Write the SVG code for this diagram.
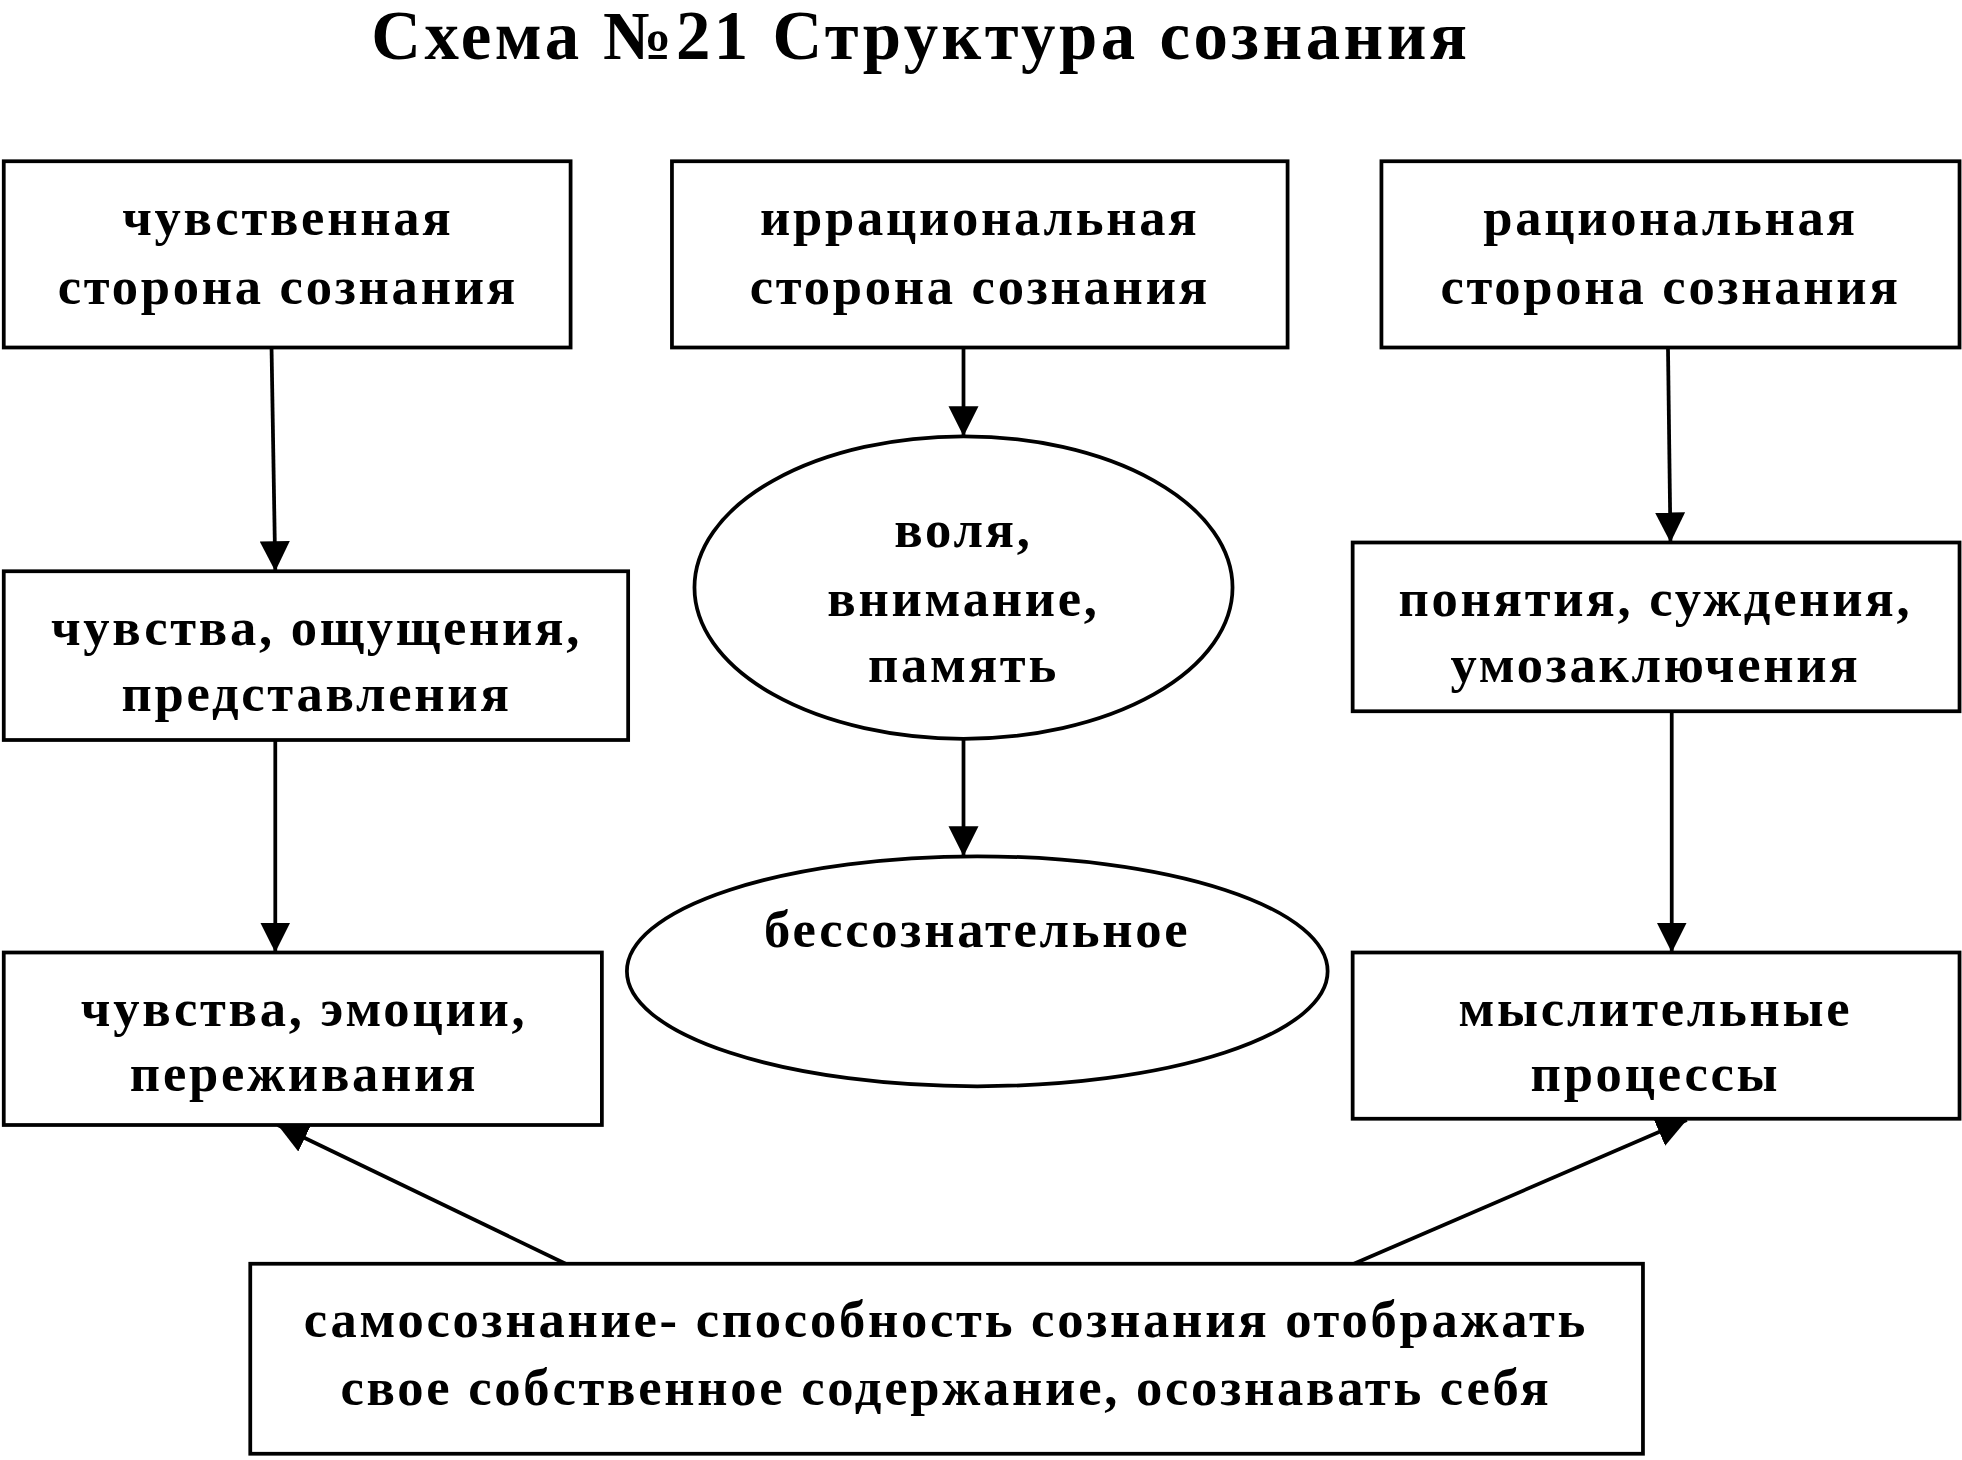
<svg xmlns="http://www.w3.org/2000/svg" width="1962" height="1460" viewBox="0 0 1962 1460">
<style>
.b{fill:#fff;stroke:#000;stroke-width:3}
.t{font-family:"Liberation Serif","Times New Roman",serif;font-weight:bold;font-size:42px;letter-spacing:2.2px;text-anchor:middle;fill:#000}
.c{stroke:#000;stroke-width:3;fill:none}
</style>
<defs><marker id="m" viewBox="0 0 10 10" refX="10" refY="5" markerWidth="8" markerHeight="8" orient="auto"><path d="M0,0L10,5L0,10z" fill="#000"/></marker></defs>
<rect width="1962" height="1460" fill="#fff"/>
<g transform="scale(1.2513,1.25)">
<text x="736" y="47" class="t" style="font-size:55px;letter-spacing:2.8px">Схема №21 Структура сознания</text>
<g id="connectors">
<path class="c" marker-end="url(#m)" d="M217,278L220,457"/>
<path class="c" marker-end="url(#m)" d="M770,278L770,349"/>
<path class="c" marker-end="url(#m)" d="M1333,278L1335,434"/>
<path class="c" marker-end="url(#m)" d="M220,592L220,762"/>
<path class="c" marker-end="url(#m)" d="M770,592L770,685"/>
<path class="c" marker-end="url(#m)" d="M1336,569L1336,762"/>
<path class="c" marker-end="url(#m)" d="M452,1011L222,900"/>
<path class="c" marker-end="url(#m)" d="M1082,1011L1348,896"/>
</g>
<g id="n1"><rect class="b" x="3" y="129" width="453" height="149"/><text class="t" x="230" y="188">чувственная</text><text class="t" x="230" y="243">сторона сознания</text></g>
<g id="n2"><rect class="b" x="537" y="129" width="492" height="149"/><text class="t" x="783" y="188">иррациональная</text><text class="t" x="783" y="243">сторона сознания</text></g>
<g id="n3"><rect class="b" x="1104" y="129" width="462" height="149"/><text class="t" x="1335" y="188">рациональная</text><text class="t" x="1335" y="243">сторона сознания</text></g>
<g id="n4"><rect class="b" x="3" y="457" width="499" height="135"/><text class="t" x="253" y="516">чувства, ощущения,</text><text class="t" x="253" y="569">представления</text></g>
<g id="n5"><ellipse class="b" cx="770" cy="470" rx="215" ry="121"/><text class="t" x="770" y="438">воля,</text><text class="t" x="770" y="493">внимание,</text><text class="t" x="770" y="546">память</text></g>
<g id="n6"><rect class="b" x="1081" y="434" width="485" height="135"/><text class="t" x="1323" y="493">понятия, суждения,</text><text class="t" x="1323" y="546">умозаключения</text></g>
<g id="n7"><rect class="b" x="3" y="762" width="478" height="138"/><text class="t" x="243" y="821">чувства, эмоции,</text><text class="t" x="243" y="873">переживания</text></g>
<g id="n8"><ellipse class="b" cx="781" cy="777" rx="280" ry="92"/><text class="t" x="781" y="758">бессознательное</text></g>
<g id="n9"><rect class="b" x="1081" y="762" width="485" height="133"/><text class="t" x="1323" y="821">мыслительные</text><text class="t" x="1323" y="873">процессы</text></g>
<g id="n10"><rect class="b" x="200" y="1011" width="1113" height="152"/><text class="t" x="756" y="1070">самосознание- способность сознания отображать</text><text class="t" x="756" y="1124">свое собственное содержание, осознавать себя</text></g>
</g>
</svg>
